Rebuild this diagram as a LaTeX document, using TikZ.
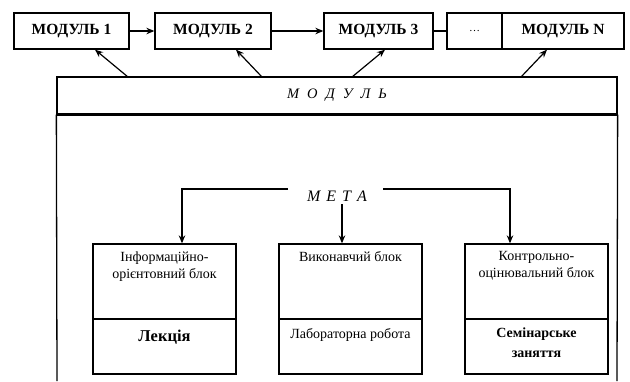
\documentclass[tikz,border=0pt]{standalone}
\usepackage{fontspec}
\setmainfont{Liberation Serif}
\usetikzlibrary{arrows.meta,calc}
\begin{document}
\begin{tikzpicture}[x=1pt,y=-1pt,
  arr/.style={-{Stealth[length=8pt,width=6.5pt]}, line width=1.2pt},
  topbox/.style={draw, line width=1.3pt, minimum height=36pt, inner sep=0pt, font=\bfseries\fontsize{15.5}{17}\selectfont},
  upbox/.style={draw, line width=1.3pt, minimum width=143pt, minimum height=75pt, inner sep=0pt},
  lowbox/.style={draw, line width=1.3pt, minimum width=143pt, minimum height=55pt, inner sep=0pt},
  small/.style={font=\fontsize{14}{17}\selectfont, align=center, inner sep=0pt}
]
\useasboundingbox (0,0) rectangle (630,381);

% top row of modules
\node[topbox, minimum width=115pt] (m1) at (71.5,31) {МОДУЛЬ 1};
\node[topbox, minimum width=116pt] (m2) at (213,31) {МОДУЛЬ 2};
\node[topbox, minimum width=109pt] (m3) at (378.5,31) {МОДУЛЬ 3};
\node[topbox, minimum width=55pt, font=\fontsize{11}{13}\selectfont] (md) at (474.5,31) {\ldots};
\node[topbox, minimum width=122pt] (mn) at (563,31) {МОДУЛЬ N};

\draw[arr] (m1) -- (m2);
\draw[arr] (m2) -- (m3);
\draw[line width=1.2pt] (m3) -- (md);

% big module box
\node[draw, line width=1.3pt, minimum width=560pt, minimum height=37pt, inner sep=0pt,
      font=\itshape\fontsize{14.5}{16}\selectfont] (mh) at (337,95.5)
  {М\kern8ptО\kern8ptД\kern8ptУ\kern8ptЛ\kern8ptЬ};
\draw[line width=2pt] (mh.south west) -- (mh.south east);
\coordinate (bl) at (57,381);
\coordinate (br) at (617,381);
\draw[line width=1.3pt] (mh.south west) -- (bl);
\draw[line width=1.3pt] (mh.south east) -- (br);

% arrows from module box up to the top modules
\coordinate (t1) at (128,77);
\coordinate (t2) at (262,77);
\coordinate (t3) at (352,77);
\coordinate (t4) at (521,77);
\coordinate (h1) at (95,0);
\coordinate (h2) at (236,0);
\coordinate (h3) at (385,0);
\coordinate (h4) at (547,0);
\draw[arr] (t1) -- (m1.south -| h1);
\draw[arr] (t2) -- (m2.south -| h2);
\draw[arr] (t3) -- (m3.south -| h3);
\draw[arr] (t4) -- (mn.south -| h4);

% META
\node[inner sep=0pt, font=\itshape\fontsize{16}{18}\selectfont] (meta) at (337,196)
  {М\kern6ptЕ\kern6ptТ\kern6ptА};

% inner blocks
\node[upbox] (u1) at (164.5,281.5) {};
\node[lowbox] (l1) at (164.5,346.5) {};
\node[upbox] (u2) at (350.5,281.5) {};
\node[lowbox] (l2) at (350.5,346.5) {};
\node[upbox] (u3) at (536.5,281.5) {};
\node[lowbox] (l3) at (536.5,346.5) {};

\node[small, anchor=north] (tx1) at ($(u1.north)+(0,8)$) {Інформаційно-\\орієнтовний блок};
\node[small, anchor=north] (tx2) at ($(u2.north)+(0,8)$) {Виконавчий блок};
\node[small, anchor=north] (tx3) at ($(u3.north)+(0,8)$) {Контрольно-\\оцінювальний блок};

\node[small, font=\bfseries\fontsize{16.5}{18}\selectfont] (lx1) at (164.5,337) {Лекція};
\node[small] (lx2) at (350.5,335) {Лабораторна робота};
\node[small, font=\bfseries\fontsize{14}{20}\selectfont] (lx3) at (536.5,343) {Семінарське\\заняття};

% arrows from META
\coordinate (ml) at (288,189);
\coordinate (mr) at (383,189);
\coordinate (x1) at (182,0);
\coordinate (x2) at (342,0);
\coordinate (x3) at (510,0);
\draw[arr] (ml) -| (u1.north -| x1);
\draw[arr] (meta.south -| x2) ++(0,3) -- (u2.north -| x2);
\draw[arr] (mr) -| (u3.north -| x3);
\end{tikzpicture}
\end{document}
